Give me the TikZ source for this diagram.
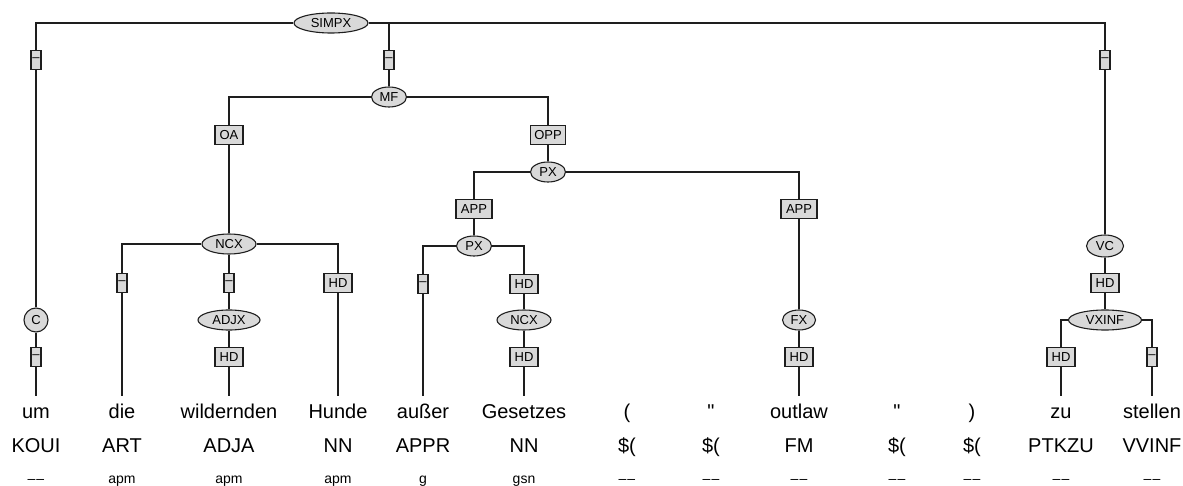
\documentclass[tikz,border=0pt]{standalone}
\usepackage{fontspec}
\setmainfont{Liberation Sans}[Ligatures=TeXOff]
\usetikzlibrary{shapes.geometric}

\definecolor{catfill}{HTML}{D9D9D9}
\definecolor{treeline}{HTML}{1E1E1E}
\newcommand{\nomorph}{\textendash\kern1pt\textendash}

\begin{document}
\begin{tikzpicture}[
    x=1pt, y=-1pt,
    cat/.style={ellipse, draw=treeline, fill=catfill, line width=1.1pt, inner sep=0pt, minimum height=20pt, font=\fontsize{13}{13}\selectfont},
    edgelab/.style={rectangle, draw=treeline, fill=catfill, line width=1.1pt, inner sep=0pt, minimum width=28pt, minimum height=19pt, font=\fontsize{13}{13}\selectfont},
    nolab/.style={edgelab, minimum width=10pt},
    word/.style={anchor=base, font=\fontsize{20}{24}\selectfont, text height=15pt, inner ysep=7pt},
    tag/.style={anchor=base, font=\fontsize{20}{24}\selectfont},
    morph/.style={anchor=base, font=\fontsize{14}{16}\selectfont},
    branch/.style={draw=treeline, line width=1.1pt}
  ]
  \useasboundingbox (0,0) rectangle (1183,486);

  % words, tags, morphology
  \node[word] (w1) at (36,418) {um};
  \node[word] (w2) at (122,418) {die};
  \node[word] (w3) at (229,418) {wildernden};
  \node[word] (w4) at (338,418) {Hunde};
  \node[word] (w5) at (423,418) {außer};
  \node[word] (w6) at (524,418) {Gesetzes};
  \node[word] (w7) at (627,418) {(};
  \node[word] (w8) at (711,418) {"};
  \node[word] (w9) at (799,418) {outlaw};
  \node[word] (w10) at (897,418) {"};
  \node[word] (w11) at (972,418) {)};
  \node[word] (w12) at (1061,418) {zu};
  \node[word] (w13) at (1152,418) {stellen};

  \node[tag] (t1) at (36,452) {KOUI};
  \node[tag] (t2) at (122,452) {ART};
  \node[tag] (t3) at (229,452) {ADJA};
  \node[tag] (t4) at (338,452) {NN};
  \node[tag] (t5) at (423,452) {APPR};
  \node[tag] (t6) at (524,452) {NN};
  \node[tag] (t7) at (627,452) {\$(};
  \node[tag] (t8) at (711,452) {\$(};
  \node[tag] (t9) at (799,452) {FM};
  \node[tag] (t10) at (897,452) {\$(};
  \node[tag] (t11) at (972,452) {\$(};
  \node[tag] (t12) at (1061,452) {PTKZU};
  \node[tag] (t13) at (1152,452) {VVINF};

  \node[morph] (m1) at (36,483) {\nomorph};
  \node[morph] (m2) at (122,483) {apm};
  \node[morph] (m3) at (229,483) {apm};
  \node[morph] (m4) at (338,483) {apm};
  \node[morph] (m5) at (423,483) {g};
  \node[morph] (m6) at (524,483) {gsn};
  \node[morph] (m7) at (627,483) {\nomorph};
  \node[morph] (m8) at (711,483) {\nomorph};
  \node[morph] (m9) at (799,483) {\nomorph};
  \node[morph] (m10) at (897,483) {\nomorph};
  \node[morph] (m11) at (972,483) {\nomorph};
  \node[morph] (m12) at (1061,483) {\nomorph};
  \node[morph] (m13) at (1152,483) {\nomorph};

  % categories and edge labels
  \node[cat, minimum width=74pt] (simpx) at (331,23) {SIMPX};
  \node[nolab] (e1) at (36,60) {\textendash};
  \node[nolab] (e2) at (389,60) {\textendash};
  \node[nolab] (e3) at (1105,60) {\textendash};

  \node[cat, minimum width=24pt, minimum height=24pt] (c) at (36,320) {C};
  \node[nolab] (e4) at (36,357) {\textendash};

  \node[cat, minimum width=35pt] (mf) at (389,97) {MF};
  \node[edgelab] (oa) at (229,135) {OA};
  \node[edgelab, minimum width=35pt] (opp) at (548,135) {OPP};

  \node[cat, minimum width=54pt] (ncx1) at (229,244) {NCX};
  \node[nolab] (e5) at (122,283) {\textendash};
  \node[nolab] (e6) at (229,283) {\textendash};
  \node[edgelab] (hd1) at (338,283) {HD};
  \node[cat, minimum width=62pt] (adjx) at (229,320) {ADJX};
  \node[edgelab] (hd2) at (229,357) {HD};

  \node[cat, minimum width=35pt] (px1) at (548,172) {PX};
  \node[edgelab, minimum width=36pt] (app1) at (474,209) {APP};
  \node[edgelab, minimum width=36pt] (app2) at (799,209) {APP};
  \node[cat, minimum width=35pt] (px2) at (474,246) {PX};
  \node[nolab] (e7) at (423,284) {\textendash};
  \node[edgelab] (hd3) at (524,284) {HD};
  \node[cat, minimum width=54pt] (ncx2) at (524,320) {NCX};
  \node[edgelab] (hd4) at (524,357) {HD};
  \node[cat, minimum width=33pt] (fx) at (799,320) {FX};
  \node[edgelab] (hd5) at (799,357) {HD};

  \node[cat, minimum width=37pt, minimum height=22pt] (vc) at (1105,246) {VC};
  \node[edgelab] (hd6) at (1105,283) {HD};
  \node[cat, minimum width=73pt] (vxinf) at (1105,320) {VXINF};
  \node[edgelab] (hd7) at (1061,357) {HD};
  \node[nolab] (e8) at (1152,357) {\textendash};

  % SIMPX
  \draw[branch] (simpx) -| (e1);
  \draw[branch] (simpx) -| (e2);
  \draw[branch] (simpx) -| (e3);
  \draw[branch] (e1) -- (c);
  \draw[branch] (c) -- (e4);
  \draw[branch] (e4) -- (w1);
  \draw[branch] (e2) -- (mf);

  % MF
  \draw[branch] (mf) -| (oa);
  \draw[branch] (mf) -| (opp);
  \draw[branch] (oa) -- (ncx1);
  \draw[branch] (ncx1) -| (e5);
  \draw[branch] (ncx1) -- (e6);
  \draw[branch] (ncx1) -| (hd1);
  \draw[branch] (e5) -- (w2);
  \draw[branch] (e6) -- (adjx);
  \draw[branch] (adjx) -- (hd2);
  \draw[branch] (hd2) -- (w3);
  \draw[branch] (hd1) -- (w4);

  % PX
  \draw[branch] (opp) -- (px1);
  \draw[branch] (px1) -| (app1);
  \draw[branch] (px1) -| (app2);
  \draw[branch] (app1) -- (px2);
  \draw[branch] (px2) -| (e7);
  \draw[branch] (px2) -| (hd3);
  \draw[branch] (e7) -- (w5);
  \draw[branch] (hd3) -- (ncx2);
  \draw[branch] (ncx2) -- (hd4);
  \draw[branch] (hd4) -- (w6);
  \draw[branch] (app2) -- (fx);
  \draw[branch] (fx) -- (hd5);
  \draw[branch] (hd5) -- (w9);

  % VC
  \draw[branch] (e3) -- (vc);
  \draw[branch] (vc) -- (hd6);
  \draw[branch] (hd6) -- (vxinf);
  \draw[branch] (vxinf) -| (hd7);
  \draw[branch] (vxinf) -| (e8);
  \draw[branch] (hd7) -- (w12);
  \draw[branch] (e8) -- (w13);
\end{tikzpicture}
\end{document}
